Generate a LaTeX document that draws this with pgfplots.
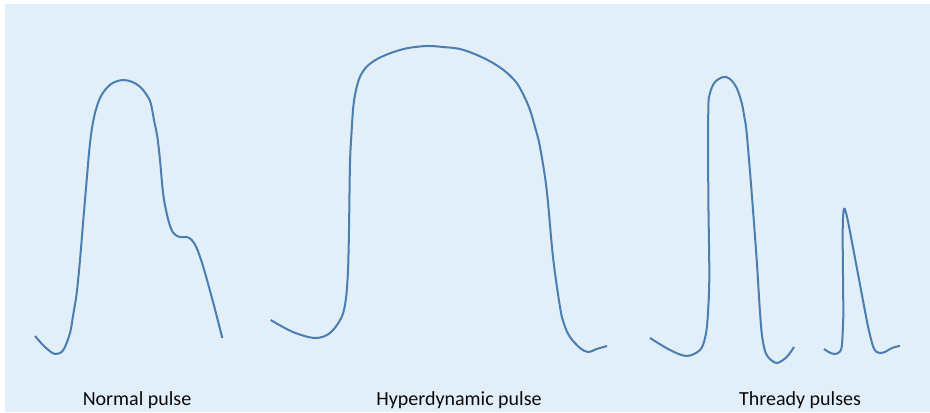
\documentclass[border=0pt]{standalone}
\usepackage{pgfplots}
\pgfplotsset{compat=1.18}
\usepackage{fontspec}
\setmainfont{Carlito}
\definecolor{panel}{HTML}{E2EEF8}
\definecolor{pulse}{HTML}{4A7EB0}
\definecolor{txt}{HTML}{0A0A0A}
\begin{document}
\begin{tikzpicture}
\begin{axis}[
  scale only axis, width=930pt, height=412pt,
  xmin=0, xmax=930, ymin=0, ymax=412, y dir=reverse,
  axis lines=none, clip=false,
]
\path (axis cs:0,0) rectangle (axis cs:930,412);
\fill[panel] (axis cs:5,4) rectangle (axis cs:930,412);
% Normal pulse
\addplot[pulse, line width=2pt, smooth, tension=0.55] coordinates {
(35,336) (45,347) (55,354) (63.3,350) (70,333) (73,316) (76.7,293) (80,260) (83.3,220) (86.7,180) (89.3,150) (91.7,130) (95,113) (100,98) (106.7,88) (113.3,82.7) (122.7,80) (131.7,81.7) (140,86.7) (146.7,95) (150.7,103) (154,120) (157.3,136.7) (160,160) (163.3,195) (168.3,220) (173.3,233) (180,237) (186.7,237) (191.7,240) (196.7,248) (203.3,267) (213.3,303) (222.3,338)};
% Hyperdynamic pulse
\addplot[pulse, line width=2pt, smooth, tension=0.55] coordinates {
(270.7,320) (293,332) (315,338) (330,333) (341.7,317) (346,298) (348,270) (349,230) (350,163) (351.7,130) (353.3,106.7) (356,90) (360,76.7) (366.7,66.7) (376.7,59.3) (390,53.3) (406.7,48.3) (426.7,46) (443,47) (460,49) (477,55) (493,63) (506,72) (516.7,83) (524,96) (530,110) (535,127) (540,147) (546.7,190) (553,257) (560,307) (564,324) (570,337) (580,348) (588,352) (596.7,349) (607,346)};
% Thready pulse 1
\addplot[pulse, line width=2pt, smooth, tension=0.55] coordinates {
(650,338) (670,350) (686.7,356) (700,350) (705,338) (707.5,320) (709.3,277) (708.3,193) (708.3,110) (710,93) (715,82) (723.3,77) (730,79) (736.7,88) (741.7,103) (744.5,118) (746.7,133) (751.7,193) (756.7,260) (759.5,305) (761.7,333) (764.5,349) (768,357) (776.7,363) (786.7,357) (794,347)};
% Thready pulse 2
\addplot[pulse, line width=2pt, smooth, tension=0.55] coordinates {
(824,349) (829.5,352.5) (835,354) (839.5,352) (841.7,347) (842.8,330) (843.3,310) (842.7,243) (843,218) (844,209) (845.5,211) (848.3,223) (856.7,267) (866.7,320) (870.5,337) (873.3,347) (876.5,352) (880,353) (885,352) (890,349) (895,347) (900,346)};
\node[txt, font=\fontsize{20}{24}\selectfont, anchor=base] at (axis cs:137,406) {Normal pulse};
\node[txt, font=\fontsize{20}{24}\selectfont, anchor=base] at (axis cs:459,406) {Hyperdynamic pulse};
\node[txt, font=\fontsize{20}{24}\selectfont, anchor=base] at (axis cs:800,406) {Thready pulses};
\end{axis}
\end{tikzpicture}
\end{document}
